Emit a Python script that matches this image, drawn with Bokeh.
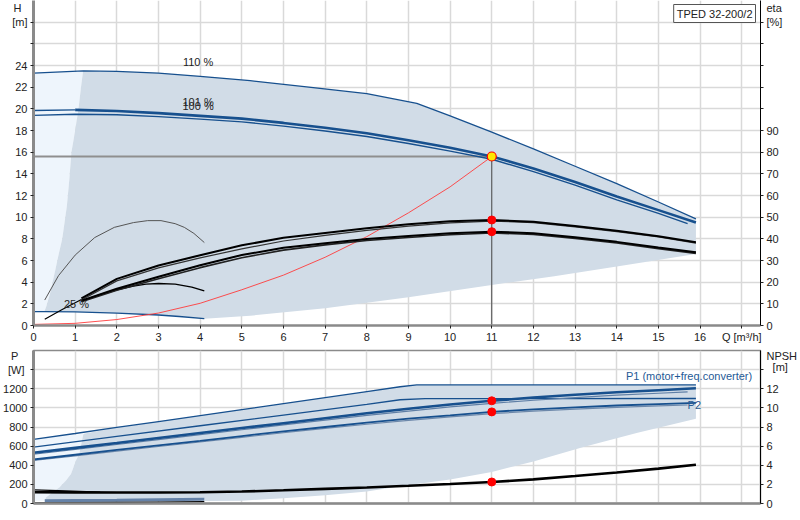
from bokeh.plotting import figure
from bokeh.models import Range1d, LinearAxis, FixedTicker, Label
from bokeh.layouts import column
from bokeh.embed import file_html
from bokeh.resources import INLINE

# ---------------- data ----------------
q_ticks = list(range(0, 18))
h_ticks = list(range(0, 26, 2))
h_grid = list(range(0, 30, 2))
eta_ticks = list(range(0, 100, 10))
eta_grid = list(range(0, 150, 10))
p_ticks = list(range(0, 1400, 200))
p_grid = list(range(0, 1600, 200))
npsh_ticks = list(range(0, 14, 2))
npsh_grid = list(range(0, 16, 2))
q_label = "Q [m³/h]"

# head curves H [m] vs Q [m3/h]
q_h110 = [0, 1.2, 2, 3, 4, 5.2, 6.5, 8, 9.2, 10, 11, 12, 13, 14, 15, 15.9]
h_h110 = [23.3, 23.5, 23.45, 23.3, 23.0, 22.6, 22.05, 21.4, 20.5, 19.35, 17.85, 16.3, 14.7, 13.1, 11.4, 9.85]
q_h101 = [0, 1, 2, 3, 4, 5, 6, 7, 8, 9, 10, 11, 12, 13, 14, 15, 15.9]
h_h101 = [19.85, 19.9, 19.8, 19.6, 19.35, 19.1, 18.7, 18.25, 17.75, 17.1, 16.4, 15.6, 14.5, 13.25, 11.9, 10.65, 9.5]
q_h100 = [0, 1, 2, 3, 4, 5, 6, 7, 8, 9, 10, 11, 12, 13, 14, 15, 15.7]
h_h100 = [19.4, 19.5, 19.45, 19.28, 19.05, 18.8, 18.4, 17.95, 17.45, 16.8, 16.1, 15.35, 14.2, 12.95, 11.6, 10.35, 9.4]
q_h25 = [0, 0.27, 1, 2, 3, 3.5, 4.1]
h_h25 = [1.28, 1.28, 1.25, 1.15, 0.97, 0.83, 0.63]

# system curve
q_sys = [0, 1, 2, 3, 4, 5, 6, 7, 8, 9, 10, 11]
h_sys = [0.1, 0.2, 0.55, 1.15, 2.05, 3.3, 4.65, 6.3, 8.2, 10.4, 12.8, 15.6]

# operating point
op_q = 11
op_h = 15.6
op_eta = [48.7, 43.3]
op_p = [1074, 958]
op_npsh = 2.25

# efficiency curves eta [%]
q_eta = [1.15, 2, 3, 4, 5, 6, 7, 8, 9, 10, 11, 12, 13, 14, 15, 15.9]
eta_a = [12.5, 21.5, 27.7, 32.4, 37.0, 40.5, 42.7, 44.9, 46.7, 48.1, 48.7, 47.9, 45.9, 43.7, 41.2, 38.4]
eta_b = [11.8, 20.6, 26.6, 31.2, 35.4, 39.0, 41.6, 43.9, 45.9, 47.4, 48.2, 47.5, 45.5, 43.3, 40.9, 38.0]
eta_c = [11.5, 17.0, 22.5, 27.8, 32.5, 35.9, 38.0, 39.9, 41.3, 42.6, 43.3, 42.6, 40.7, 38.6, 36.0, 33.8]
eta_d = [11.0, 16.3, 21.6, 26.7, 31.3, 34.8, 37.2, 39.2, 40.6, 41.9, 42.7, 42.0, 40.2, 38.1, 35.5, 33.3]
q_arch_low = [1.15, 1.6, 2.0, 2.4, 2.7, 3.0, 3.4, 3.8, 4.1]
eta_arch_low = [11.2, 14.2, 16.5, 18.2, 19.1, 19.4, 19.1, 17.7, 16.0]
q_arch_high = [0.27, 0.6, 1.0, 1.47, 1.94, 2.4, 2.74, 3.06, 3.4, 3.62, 3.85, 4.1]
eta_arch_high = [11.75, 23.0, 32.5, 40.6, 45.3, 47.5, 48.4, 48.4, 47.0, 45.3, 42.5, 38.3]
q_eta25 = [0.27, 0.7, 1.15]
eta_eta25 = [2.9, 7.5, 12.0]

# top regions
reg_left_q = [0.26, 0.31, 0.4, 0.51, 0.6, 0.69, 0.8, 0.86, 0.91, 1.0, 1.08, 1.14, 1.19]
reg_left_h = [1.28, 1.8, 3.0, 4.9, 6.5, 8.0, 11.0, 13.5, 16.0, 18.0, 20.0, 22.0, 23.5]
reg_low_q = [15.9, 14, 12.5, 11, 9, 7, 5.2, 4.1]
reg_low_h = [6.6, 5.45, 4.55, 3.75, 2.6, 1.6, 0.9, 0.63]

# power curves P [W]
q_pa = [0, 1, 2, 3, 4, 5, 6, 7, 8, 8.8, 9.2, 15.9]
p_pa = [670, 732, 795, 857, 920, 982, 1045, 1107, 1170, 1221, 1240, 1240]
q_pb = [0, 2, 4, 6, 8, 8.8, 9.4, 15.9]
p_pb = [590, 702, 813, 925, 1036, 1085, 1097, 1098]
q_pc = [0, 1, 2, 3, 4, 5, 6, 7, 8, 9, 10, 11, 12, 13, 14, 15, 15.9]
p_pc = [530, 582, 633, 685, 737, 789, 840, 892, 943, 990, 1035, 1074, 1108, 1138, 1163, 1185, 1205]
q_pc2 = [0, 1, 2, 3, 4, 5, 6, 7, 8, 9, 10, 11, 12, 13, 14, 15, 15.7]
p_pc2 = [515, 566, 617, 668, 720, 771, 822, 872, 922, 967, 1010, 1047, 1080, 1108, 1133, 1153, 1168]
p_pd = [460, 510, 560, 608, 655, 705, 755, 800, 845, 888, 922, 958, 985, 1005, 1025, 1040, 1053]
p_pd2 = [450, 499, 548, 596, 643, 692, 740, 785, 829, 870, 905, 940, 966, 986, 1005, 1020, 1030]
q_p25 = [0.27, 1, 2, 3, 4.1]
p_p25 = [28, 31, 35, 40, 45]
q_p25b = [0, 1, 2, 3, 4.1]
p_p25b = [5, 8, 11, 15, 19]

# NPSH [m]
q_npsh = [0, 1, 2, 3, 4, 5, 6, 7, 8, 9, 10, 11, 12, 13, 14, 15, 15.9]
npsh = [1.18, 1.16, 1.15, 1.15, 1.17, 1.25, 1.38, 1.53, 1.68, 1.85, 2.04, 2.25, 2.52, 2.88, 3.25, 3.65, 4.05]
q_npsh_thin = [0, 0.6, 1.1, 1.6]
npsh_thin = [1.42, 1.35, 1.28, 1.2]

# bottom regions
regp_left_q = [0.27, 0.3, 0.45, 0.62, 0.78, 0.9, 1.02, 1.1, 1.16, 1.2]
regp_left_p = [30, 63, 115, 168, 240, 309, 450, 520, 650, 730]
regp_low_q = [15.9, 14.5, 13.2, 12, 11, 10, 8.8, 8, 7, 6, 5, 4.1]
regp_low_p = [885, 740, 590, 440, 330, 250, 180, 125, 85, 55, 30, 25]

# ---------------- style ----------------
FONT = "Liberation Sans"
BLUE = "#17508e"
FILL = "#d1dce7"
PALE = "#eef5fc"
GRID = "#d9d9d9"
AXG = "#8a8a8a"
TXT = "#222222"
Q_MAX = 17.45
NB = "\u00a0"


def style_axis(ax, line_color, line_width):
    ax.axis_line_color = line_color
    ax.axis_line_width = line_width
    ax.major_tick_line_color = None
    ax.major_tick_in = 0
    ax.major_tick_out = 3
    ax.minor_tick_line_color = TXT
    ax.minor_tick_in = 0
    ax.minor_tick_out = 3
    ax.major_label_text_font = FONT
    ax.major_label_text_font_size = "11px"
    ax.major_label_text_color = TXT
    ax.major_label_standoff = 3


def label(p, x, y, text, align="center", color=TXT, base="middle", **kw):
    p.add_layout(Label(x=x, y=y, text=text, text_align=align, text_baseline=base,
                       text_font=FONT, text_font_size="11px", text_color=color, **kw))


# ---------------- top chart ----------------
p = figure(width=800, height=345, x_range=Range1d(0, Q_MAX), y_range=Range1d(0, 30),
           output_backend="svg", toolbar_location=None,
           min_border_left=32, min_border_right=38, min_border_top=0, min_border_bottom=20)
p.extra_y_ranges = {"eta": Range1d(0, 150)}
p.outline_line_color = None
p.background_fill_color = "white"

p.xaxis.ticker = FixedTicker(ticks=q_ticks, minor_ticks=q_ticks)
p.xaxis.major_label_overrides = {17: q_label}
p.yaxis.ticker = FixedTicker(ticks=h_ticks + [28, 29.3], minor_ticks=h_grid)
p.yaxis.major_label_overrides = {28: "[m]", 29.3: "H" + NB + NB}
style_axis(p.xaxis[0], AXG, 2.5)
style_axis(p.yaxis[0], AXG, 3)
p.xaxis.major_label_standoff = 2

eta_axis = LinearAxis(y_range_name="eta",
                      ticker=FixedTicker(ticks=eta_ticks + [140, 146.7], minor_ticks=eta_grid),
                      major_label_overrides={140: "[%]", 146.7: "eta"})
style_axis(eta_axis, "black", 1)
p.add_layout(eta_axis, "right")

p.xgrid.ticker = FixedTicker(ticks=q_ticks)
p.ygrid.ticker = FixedTicker(ticks=h_grid)
p.xgrid.grid_line_color = GRID
p.ygrid.grid_line_color = GRID
p.xgrid.grid_line_width = 1.5
p.ygrid.grid_line_width = 1.5

# regions
pale_q = [0, 0] + q_h110[:2] + reg_left_q[::-1]
pale_h = [h_h25[0], h_h110[0]] + h_h110[:2] + reg_left_h[::-1]
p.patch(pale_q, pale_h, fill_color=PALE, line_color=None)
main_q = reg_left_q + q_h110[1:] + reg_low_q + q_h25[1:][::-1]
main_h = reg_left_h + h_h110[1:] + reg_low_h + h_h25[1:][::-1]
p.patch(main_q, main_h, fill_color=FILL, line_color=None)

# operating lines
p.line([0, op_q], [op_h, op_h], line_color="#8f8f8f", line_width=2)
p.line([op_q, op_q], [0, op_h], line_color="#444444", line_width=1)

# head curves
p.line(q_h110, h_h110, line_color=BLUE, line_width=1.3)
p.line(q_h100, h_h100, line_color=BLUE, line_width=1.4)
p.line(q_h101[:2], h_h101[:2], line_color=BLUE, line_width=1.4)
p.line(q_h101[1:], h_h101[1:], line_color=BLUE, line_width=2.6)
p.line(q_h25, h_h25, line_color=BLUE, line_width=1.3)

# system curve
p.line(q_sys, h_sys, line_color="#ff3b3b", line_width=0.9)

# efficiency curves
p.line(q_arch_high, eta_arch_high, y_range_name="eta", line_color="#555555", line_width=1)
p.line(q_arch_low, eta_arch_low, y_range_name="eta", line_color="black", line_width=1.4)
p.line(q_eta25, eta_eta25, y_range_name="eta", line_color="black", line_width=1.2)
p.line(q_eta, eta_b, y_range_name="eta", line_color="#333333", line_width=1.2)
p.line(q_eta, eta_a, y_range_name="eta", line_color="black", line_width=2)
p.line(q_eta, eta_d, y_range_name="eta", line_color="#222222", line_width=1.6)
p.line(q_eta, eta_c, y_range_name="eta", line_color="black", line_width=2)

# operating markers
p.scatter([op_q, op_q], op_eta, y_range_name="eta", size=8, fill_color="red", line_color="red")
p.scatter([op_q], [op_h], size=9, fill_color="#ffe600", line_color="red", line_width=1.2)

# curve labels
label(p, 3.95, 24.3, "110 %")
label(p, 3.95, 20.6, "101 %")
label(p, 3.95, 20.3, "100 %")
label(p, 1.03, 2.0, "25 %")
p.add_layout(Label(x=Q_MAX, y=30, text="TPED 32-200/2", text_align="right", text_baseline="top",
                   x_offset=-5, y_offset=-4, padding=3,
                   text_font=FONT, text_font_size="11px", text_color=TXT,
                   border_line_color="#555555", border_line_width=1,
                   background_fill_color="white"))

# ---------------- bottom chart ----------------
b = figure(width=800, height=175, x_range=p.x_range, y_range=Range1d(0, 1600),
           output_backend="svg", toolbar_location=None,
           min_border_left=32, min_border_right=38, min_border_top=5, min_border_bottom=17)
b.extra_y_ranges = {"npsh": Range1d(0, 16)}
b.outline_line_color = AXG
b.outline_line_width = 1.5

b.xaxis.ticker = FixedTicker(ticks=[], minor_ticks=[])
style_axis(b.xaxis[0], AXG, 2.5)
b.yaxis.ticker = FixedTicker(ticks=p_ticks + [1400, 1545], minor_ticks=p_grid)
b.yaxis.major_label_overrides = {1400: "[W]" + NB, 1545: "P" + NB + NB + NB}
style_axis(b.yaxis[0], AXG, 3)

npsh_axis = LinearAxis(y_range_name="npsh",
                       ticker=FixedTicker(ticks=npsh_ticks + [14.25, 15.45], minor_ticks=npsh_grid),
                       major_label_overrides={14.25: NB + NB + "[m]", 15.45: "NPSH"})
style_axis(npsh_axis, "black", 1)
b.add_layout(npsh_axis, "right")

b.xgrid.ticker = FixedTicker(ticks=q_ticks)
b.ygrid.ticker = FixedTicker(ticks=p_grid)
b.xgrid.grid_line_color = GRID
b.ygrid.grid_line_color = GRID
b.xgrid.grid_line_width = 1.5
b.ygrid.grid_line_width = 1.5

palep_q = [0, 0, regp_left_q[-1]] + regp_left_q[::-1]
palep_p = [p_p25[0], p_pa[0], regp_left_p[-1]] + regp_left_p[::-1]
b.patch(palep_q, palep_p, fill_color=PALE, line_color=None)
mainp_q = regp_left_q + q_pa[2:] + regp_low_q + q_p25[::-1]
mainp_p = regp_left_p + p_pa[2:] + regp_low_p + p_p25[::-1]
b.patch(mainp_q, mainp_p, fill_color=FILL, line_color=None)

b.line(q_pa, p_pa, line_color=BLUE, line_width=1.3)
b.line(q_pb, p_pb, line_color=BLUE, line_width=1.3)
b.line(q_pc2, p_pc2, line_color="#5f7fa6", line_width=1.2)
b.line(q_pc, p_pc, line_color=BLUE, line_width=2.6)
b.line(q_pc2, p_pd2, line_color="#6d88aa", line_width=1.2)
b.line(q_pc, p_pd, line_color=BLUE, line_width=1.8)
b.line(q_p25, p_p25, line_color="#6582a8", line_width=3)
b.line(q_p25b, p_p25b, line_color="black", line_width=1.3)

b.line(q_npsh_thin, npsh_thin, y_range_name="npsh", line_color="black", line_width=1.2)
b.line(q_npsh, npsh, y_range_name="npsh", line_color="black", line_width=2.6)

b.scatter([op_q, op_q], op_p, size=8, fill_color="red", line_color="red")
b.scatter([op_q], [op_npsh], y_range_name="npsh", size=8, fill_color="red", line_color="red")

label(b, 17.25, 1334, "P1 (motor+freq.converter)", align="right", color="#1f5a96")
label(b, 15.7, 1034, "P2", align="left", color="#2a5b94")

layout = column(p, b, spacing=0)
open("out.html", "w").write(file_html(layout, INLINE))
